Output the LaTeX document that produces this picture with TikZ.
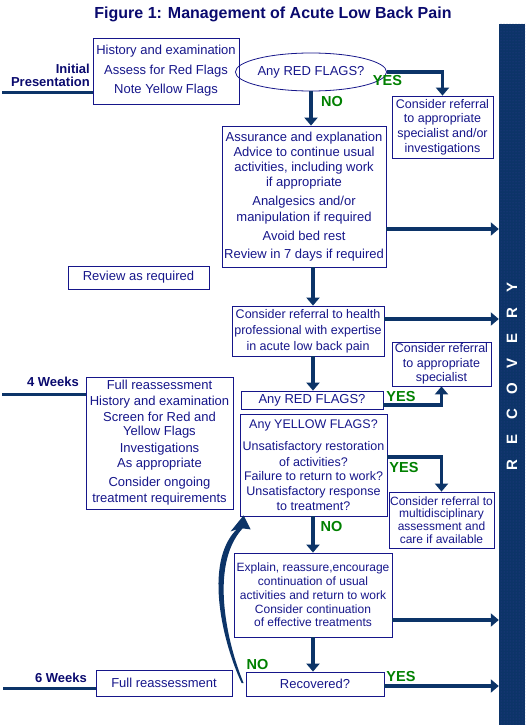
\documentclass[tikz,border=0pt]{standalone}
\usepackage{fontspec}
\setmainfont{Liberation Sans}
\usetikzlibrary{arrows.meta,calc,shapes.geometric,patterns}
\definecolor{boxblue}{RGB}{22,22,138}
\definecolor{flowblue}{RGB}{12,52,104}
\definecolor{dotblue}{RGB}{48,58,140}
\definecolor{yesgreen}{RGB}{0,128,0}
\definecolor{titleblue}{RGB}{10,10,110}
\newcommand{\fsz}[2]{\fontsize{#1}{#2}\selectfont}
\begin{document}
\begin{tikzpicture}[x=1pt,y=-1pt,
                        box/.style={draw=boxblue, line width=0.8pt, text=boxblue, align=center, inner sep=0pt, font=\fsz{13}{15}},
                        flow/.style={draw=flowblue, line width=3.5pt, -{Triangle[width=13pt,length=8pt]}},
                        stage/.style={text=titleblue, font=\bfseries\fsz{13}{13}, anchor=east, align=right, inner sep=0pt},
                        answer/.style={text=yesgreen, font=\bfseries\fsz{14.5}{15}, inner sep=0pt},
                        timeline/.style={draw=flowblue, line width=3pt}]
                        \useasboundingbox (0,0) rectangle (529,725);
                        
                        % Marking title
                        \node (title) at (273.000000,14.000000) [text=titleblue, font=\bfseries\fsz{16}{16}] {Figure 1: Management of Acute Low Back Pain};%
                        
                        % Drawing recovery bar
                        \node (bar) at (512.000000,374.500000) [fill=flowblue, minimum width=26pt, minimum height=701pt, inner sep=0pt] {};%
                        \fill [pattern=dots, pattern color=dotblue] (bar.north west) rectangle (bar.south east);%
                        \foreach \ltr [count=\i from 0] in {R,E,C,O,V,E,R,Y}
                          \node (bar-\i) at (512.000000,{465-25.4*\i}) [rotate=90, text=white, font=\bfseries\fsz{15}{15}] {\ltr};%
                        
                        % Marking stages on the left
                        \node (init) at (90.000000,75.000000) [stage] {Initial\\Presentation};%
                        \node (week4) at (79.000000,381.500000) [stage] {4 Weeks};%
                        \node (week6) at (87.000000,678.000000) [stage] {6 Weeks};%
                        
                        % Drawing boxes of the first visit
                        \node (hist) at (166.000000,71.000000) [box, minimum width=146pt, minimum height=66pt, font=\fsz{13}{19.5}] {History and examination\\Assess for Red Flags\\Note Yellow Flags};%
                        \node (redq) at (311.000000,72.000000) [box, ellipse, minimum width=118pt, minimum height=38pt] {Any RED FLAGS?};%
                        \node (ref1) at (442.500000,127.000000) [box, minimum width=101pt, minimum height=62pt, font=\fsz{12.5}{14.7}] {Consider referral\\to appropriate\\specialist and/or\\investigations};%
                        \node (assure) at (304.000000,196.500000) [box, minimum width=164pt, minimum height=141pt] {Assurance and explanation\\Advice to continue usual\\activities, including work\\if appropriate\\[4pt]Analgesics and/or\\[1pt]manipulation if required\\[4pt]Avoid bed rest\\[3pt]Review in 7 days if required};%
                        \node (review) at (138.500000,277.500000) [box, minimum width=141pt, minimum height=23pt] {Review as required};%
                        \node (health) at (308.000000,331.000000) [box, minimum width=152pt, minimum height=50pt, font=\fsz{12.5}{16}] {Consider referral to health\\professional with expertise\\in acute low back pain};%
                        
                        % Drawing boxes of the 4 weeks visit
                        \node (ref2) at (441.500000,364.000000) [box, minimum width=99pt, minimum height=44pt, font=\fsz{12.5}{14.5}] {Consider referral\\to appropriate\\specialist};%
                        \node (red2) at (312.000000,400.000000) [box, minimum width=142pt, minimum height=18pt] {Any RED FLAGS?};%
                        \node (full4) at (159.500000,443.000000) [box, minimum width=147pt, minimum height=132pt, font=\fsz{13}{16}] {Full reassessment\\History and examination\\Screen for Red and\\[-2pt]Yellow Flags\\[1pt]Investigations\\[-1pt]As appropriate\\[3pt]Consider ongoing\\treatment requirements};%
                        \node (yellow) at (313.500000,465.000000) [box, minimum width=147pt, minimum height=102pt, font=\fsz{12.5}{15}] {Any YELLOW FLAGS?\\[7pt]Unsatisfactory restoration\\[1pt]of activities?\\[-1pt]Failure to return to work?\\Unsatisfactory response\\to treatment?};%
                        \node (multi) at (441.500000,520.000000) [box, minimum width=105pt, minimum height=56pt, font=\fsz{12}{12.7}] {Consider referral to\\multidisciplinary\\assessment and\\care if available};%
                        \node (explain) at (313.000000,595.000000) [box, minimum width=158pt, minimum height=84pt, font=\fsz{12}{13.75}] {Explain, reassure,encourage\\continuation of usual\\activities and return to work\\Consider continuation\\of effective treatments};%
                        
                        % Drawing boxes of the 6 weeks visit
                        \node (rec) at (315.000000,684.000000) [box, minimum width=138pt, minimum height=24pt] {Recovered?};%
                        \node (full6) at (164.000000,683.000000) [box, minimum width=136pt, minimum height=26pt] {Full reassessment};%
                        
                        % Drawing time lines
                        \coordinate (initstart) at (2.000000,92.000000);%
                        \coordinate (week4start) at (2.000000,394.000000);%
                        \coordinate (week6start) at (3.000000,688.000000);%
                        \draw [timeline] (initstart) -- (initstart -| hist.west);%
                        \draw [timeline] (week4start) -- (week4start -| full4.west);%
                        \draw [timeline] (week6start) -- (week6start -| full6.west);%
                        
                        % Drawing flow arrows
                        \coordinate (spine) at (313.000000,0.000000);%
                        \draw [flow] (redq.east) -| (ref1.north);%
                        \draw [flow] (redq.south) -- (redq.south |- assure.north);%
                        \draw [flow] (assure.east |- 0,229) -- (bar.west |- 0,229);%
                        \draw [flow] (assure.south -| spine) -- (health.north -| spine);%
                        \draw [flow] (health.east |- 0,319) -- (bar.west |- 0,319);%
                        \draw [flow] (health.south -| spine) -- (red2.north -| spine);%
                        \draw [flow] (red2.east |- 0,405) -| (ref2.south);%
                        \draw [flow] (yellow.east |- 0,457) -| (multi.north);%
                        \draw [flow] (yellow.south -| spine) -- (explain.north -| spine);%
                        \draw [flow] (explain.east |- 0,620) -- (bar.west |- 0,620);%
                        \draw [flow] (explain.south -| spine) -- (rec.north -| spine);%
                        \draw [flow] (rec.east |- 0,686) -- (bar.west |- 0,686);%
                        
                        % Drawing curved arrow back from Recovered? to the yellow flags
                        \fill [flowblue] ($(rec.west)+(-4,-1)$) .. controls +(-18,-38) and +(-34,34) .. ($(yellow.south west)+(-3,13)$)
                          -- ($(yellow.south west)+(-9,15)$) -- ($(yellow.south west)+(4,-1)$) -- ($(yellow.south west)+(11,13)$)
                          -- ($(yellow.south west)+(3,12)$) .. controls +(-34,37) and +(-16,-38) .. ($(rec.west)+(-2,-1)$) -- cycle;%
                        
                        % Marking answers
                        \node (yes1) at (387.500000,81.000000) [answer] {YES};%
                        \node (no1) at (332.000000,102.000000) [answer] {NO};%
                        \node (yes2) at (401.000000,397.000000) [answer] {YES};%
                        \node (yes3) at (404.000000,468.000000) [answer] {YES};%
                        \node (no2) at (331.500000,527.000000) [answer] {NO};%
                        \node (no3) at (257.500000,664.000000) [answer] {NO};%
                        \node (yes4) at (401.000000,676.000000) [answer] {YES};%
\end{tikzpicture}
\end{document}
